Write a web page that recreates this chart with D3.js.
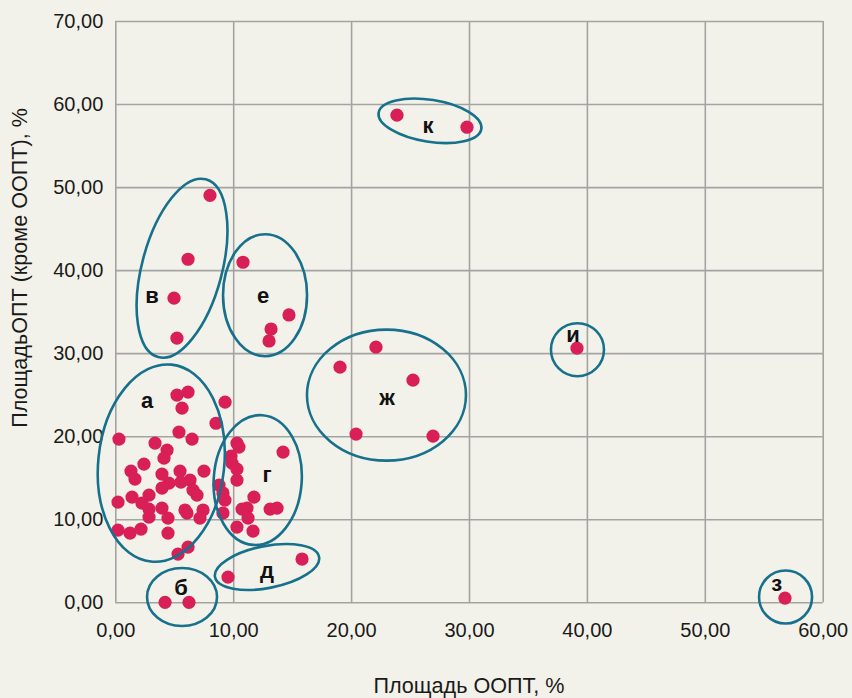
<!DOCTYPE html>
<html>
<head>
<meta charset="utf-8">
<script src="https://cdn.jsdelivr.net/npm/d3@7"></script>
<style>
  html, body { margin: 0; padding: 0; background: #f3f2ea; }
  svg { display: block; font-family: "Liberation Sans", Arial, sans-serif; }
  .tick text { font-size: 20px; fill: #1a1a1a; }
  .axis-title { font-size: 21.6px; fill: #1a1a1a; }
  .group-label { font-size: 22px; font-weight: bold; fill: #111; }
</style>
</head>
<body>
<div id="chart"></div>
<script>
// Площадь ООПТ, % (x) / Площадь ОПТ кроме ООПТ, % (y)
const xValues = [
  5.23, 6.17, 5.66, 9.31, 8.54, 5.40, 6.51, 0.31, 3.37, 4.39,
  4.13, 2.43, 1.33, 1.67, 3.96, 5.49, 7.52, 6.34, 5.57, 4.55,
  3.96, 6.59, 6.93, 2.86, 1.42, 0.23, 2.26, 2.86, 2.86, 3.96,
  4.47, 5.91, 6.08, 7.44, 7.18, 0.23, 1.25, 2.18, 4.47, 6.17,
  5.32,
  10.32, 10.49, 14.23, 9.81, 9.90, 10.32, 10.32, 8.80, 9.13, 9.30,
  11.76, 10.75, 11.17, 11.26, 13.13, 13.72, 9.13, 10.32, 11.68,
  9.56, 15.84,
  4.22, 6.25,
  8.03, 6.17, 4.98, 5.23,
  10.83, 14.73, 13.21, 13.04,
  22.11, 19.06, 25.25, 20.42, 26.95,
  39.16,
  56.80,
  23.89, 29.83
];
const yValues = [
  24.95, 25.31, 23.38, 24.10, 21.56, 20.50, 19.65, 19.65, 19.17, 18.33,
  17.36, 16.64, 15.80, 14.84, 15.44, 15.80, 15.80, 14.72, 14.48, 14.36,
  13.76, 13.51, 12.91, 12.91, 12.67, 12.07, 11.95, 11.23, 10.26, 11.35,
  10.14, 11.11, 10.75, 11.11, 10.14, 8.70, 8.34, 8.82, 8.34, 6.65,
  5.81,
  19.17, 18.69, 18.09, 17.60, 16.76, 16.04, 14.72, 14.12, 13.16, 12.31,
  12.67, 11.23, 11.35, 10.14, 11.23, 11.35, 10.75, 9.06, 8.58,
  3.04, 5.21,
  0.00, 0.00,
  49.01, 41.31, 36.62, 31.81,
  40.95, 34.60, 32.91, 31.47,
  30.72, 28.31, 26.75, 20.26, 20.02,
  30.60,
  0.50,
  58.66, 57.21
];

const xTicks = [0, 10, 20, 30, 40, 50, 60];
const yTicks = [0, 10, 20, 30, 40, 50, 60, 70];

// group names and where their ellipse / letter sit (data units)
const groupNames = ["а", "б", "в", "г", "д", "е", "ж", "з", "и", "к"];
const groupCx = [3.90, 5.66, 5.66, 12.08, 12.87, 12.70, 23.00, 56.85, 39.20, 26.69];
const groupCy = [16.76, 0.64, 40.23, 14.72, 4.25, 36.98, 24.95, 0.64, 30.42, 57.98];
const labelX = [2.70, 5.57, 3.11, 12.87, 12.87, 12.53, 23.04, 56.11, 38.82, 26.52];
const labelY = [24.35, 1.84, 36.98, 15.44, 3.89, 36.98, 24.71, 2.32, 32.29, 57.48];

// ellipse shape (px) for each group
const ellipseShape = {
  "а": { rx: 63, ry: 99, rot: 6 },
  "б": { rx: 35, ry: 29, rot: 0 },
  "в": { rx: 40, ry: 92, rot: 15 },
  "г": { rx: 44, ry: 65, rot: 4 },
  "д": { rx: 53, ry: 21, rot: -11 },
  "е": { rx: 42, ry: 61, rot: 0 },
  "ж": { rx: 79.5, ry: 65.5, rot: 0 },
  "з": { rx: 26.5, ry: 26.5, rot: 0 },
  "и": { rx: 26.5, ry: 26.5, rot: 0 },
  "к": { rx: 52, ry: 21, rot: 9 }
};

const width = 852;
const height = 698;
const margin = { top: 21, right: 29.3, bottom: 95.7, left: 115.3 };

const svg = d3.select("#chart").append("svg")
  .attr("width", width)
  .attr("height", height);

svg.append("rect").attr("width", width).attr("height", height).attr("fill", "#f3f2ea");

const x = d3.scaleLinear().domain([0, 60]).range([margin.left, width - margin.right]);
const y = d3.scaleLinear().domain([0, 70]).range([height - margin.bottom, margin.top]);

const ru = d3.formatLocale({ decimal: ",", thousands: " ", grouping: [3], currency: ["", ""] });
const fmt = ru.format(".2f");

const plotH = y(0) - y(70);
const plotW = x(60) - x(0);

// axes with grid lines
const xAxis = svg.append("g")
  .attr("transform", `translate(0, ${y(0)})`)
  .call(d3.axisBottom(x).tickValues(xTicks).tickFormat(fmt).tickSize(-plotH).tickPadding(21));

const yAxis = svg.append("g")
  .attr("transform", `translate(${x(0)}, 0)`)
  .call(d3.axisLeft(y).tickValues(yTicks).tickFormat(fmt).tickSize(-plotW).tickPadding(12));

[xAxis, yAxis].forEach(g => {
  g.select(".domain").remove();
  g.selectAll(".tick line").attr("stroke", "#a3a3a3").attr("stroke-width", 1.6);
  g.attr("font-family", null).attr("font-size", null);
});

// axis titles
svg.append("text")
  .attr("class", "axis-title")
  .attr("x", x(30))
  .attr("y", 693)
  .attr("text-anchor", "middle")
  .text("Площадь ООПТ, %");

svg.append("text")
  .attr("class", "axis-title")
  .attr("transform", "translate(27, 268) rotate(-90)")
  .attr("text-anchor", "middle")
  .text("ПлощадьОПТ (кроме ООПТ), %");

// points
const points = xValues.map((v, i) => ({ x: v, y: yValues[i] }));

svg.append("g").selectAll("circle")
  .data(points)
  .join("circle")
  .attr("cx", d => x(d.x))
  .attr("cy", d => y(d.y))
  .attr("r", 6.6)
  .attr("fill", "#d91f57");

// group ellipses
const groups = groupNames.map((g, i) => ({
  name: g, cx: groupCx[i], cy: groupCy[i], lx: labelX[i], ly: labelY[i]
}));

svg.append("g").selectAll("ellipse")
  .data(groups)
  .join("ellipse")
  .attr("transform", d => `translate(${x(d.cx)}, ${y(d.cy)}) rotate(${ellipseShape[d.name].rot})`)
  .attr("rx", d => ellipseShape[d.name].rx)
  .attr("ry", d => ellipseShape[d.name].ry)
  .attr("fill", "none")
  .attr("stroke", "#17708c")
  .attr("stroke-width", 2.6);

svg.append("g").selectAll("text")
  .data(groups)
  .join("text")
  .attr("class", "group-label")
  .attr("x", d => x(d.lx))
  .attr("y", d => y(d.ly))
  .attr("text-anchor", "middle")
  .attr("dy", "0.35em")
  .text(d => d.name);
</script>
</body>
</html>
